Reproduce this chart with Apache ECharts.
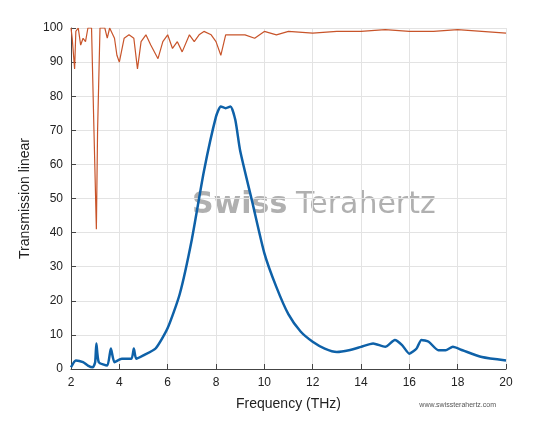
<!DOCTYPE html>
<html>
<head>
<meta charset="utf-8">
<script src="https://cdn.jsdelivr.net/npm/echarts@6/dist/echarts.min.js"></script>
<style>html,body{margin:0;padding:0;background:#fff}#chart{width:536px;height:437px}</style>
</head>
<body>
<div id="chart"></div>
<script>
// 蓝线：样品透射
var blueX = [2.0,2.2,2.5,2.7,2.9,3.0,3.05,3.15,3.5,3.65,3.8,4.1,4.5,4.6,4.7,5.0,5.5,6.0,6.5,7.0,7.5,8.0,8.2,8.4,8.6,8.8,9.0,9.5,10,10.5,11,11.5,12,12.5,13,13.5,14,14.5,15,15.4,15.7,16,16.3,16.5,16.8,17.2,17.5,17.8,18.2,19,20];
var blueY = [0.5,2.5,2,1,0.5,2,7.5,2,1,6,2,3,3,6,3,4,6,12,22,38,58,74,77,76.5,77,73,64,49,34,24,16,11,8,6,5,5.5,6.5,7.5,6.5,8.5,7,4.5,6,8.5,8,5.5,5.5,6.5,5.5,3.5,2.5];
// 橙线：参考
var orangeX = [2.0,2.05,2.15,2.2,2.3,2.4,2.5,2.6,2.7,2.85,2.95,3.05,3.1,3.2,3.4,3.5,3.6,3.8,3.9,4.0,4.2,4.4,4.6,4.75,4.9,5.1,5.3,5.6,5.8,6.0,6.2,6.4,6.6,6.9,7.1,7.3,7.5,7.8,8.0,8.2,8.4,8.8,9.2,9.6,10,10.5,11,12,13,14,15,16,17,18,19,20];
var orangeY = [100,97,88,99,100,95,97,96,100,100,70,41,70,100,100,97,100,97,92,90,97,98,97,88,96,98,95,91,96,98,94,96,93,98,96,98,99,98,96,92,98,98,98,97,99,98,99,98.5,99,99,99.5,99,99,99.5,99,98.5];

function pairs(xs, ys){ return xs.map(function(x,i){ return [x, ys[i]]; }); }

var myChart = echarts.init(document.getElementById('chart'));
myChart.setOption({
    animation: false,
    grid: { left: 71, right: 30, top: 28, bottom: 68 },
    graphic: [
        { type: 'text', left: 192, top: 190, style: { text: 'Swiss', font: 'bold 30px "DejaVu Sans"', fill: 'rgba(150,150,150,0.75)' } },
        { type: 'text', left: 296, top: 190, style: { text: 'Terahertz', font: '30px "DejaVu Sans"', fill: 'rgba(150,150,150,0.75)' } },
        { type: 'text', right: 40, top: 402, style: { text: 'www.swissterahertz.com', font: '7px sans-serif', fill: '#555' } }
    ],
    xAxis: {
        type: 'value', min: 2, max: 20, interval: 2,
        name: 'Frequency (THz)', nameLocation: 'middle', nameGap: 28,
        nameTextStyle: { fontSize: 14, color: '#222', fontFamily: 'Liberation Sans' },
        axisLine: { show: true, onZero: false, lineStyle: { color: '#444' } },
        axisTick: { inside: true, lineStyle: { color: '#444' } },
        axisLabel: { color: '#222', fontSize: 12 },
        splitLine: { lineStyle: { color: '#e3e3e3' } }
    },
    yAxis: {
        type: 'value', min: 0, max: 100, interval: 10,
        name: 'Transmission linear', nameLocation: 'middle', nameGap: 32,
        nameTextStyle: { fontSize: 14, color: '#222', fontFamily: 'Liberation Sans' },
        axisLine: { show: true, lineStyle: { color: '#444' } },
        axisTick: { inside: true, lineStyle: { color: '#444' } },
        axisLabel: { color: '#222', fontSize: 12 },
        splitLine: { lineStyle: { color: '#e3e3e3' } }
    },
    series: [
        { type: 'line', data: pairs(orangeX, orangeY), showSymbol: false, lineStyle: { color: '#c8542a', width: 1.2 }, z: 3 },
        { type: 'line', data: pairs(blueX, blueY), showSymbol: false, smooth: 0.2, lineStyle: { color: '#0e61a8', width: 2.5 }, z: 4 }
    ]
});
</script>
</body>
</html>
